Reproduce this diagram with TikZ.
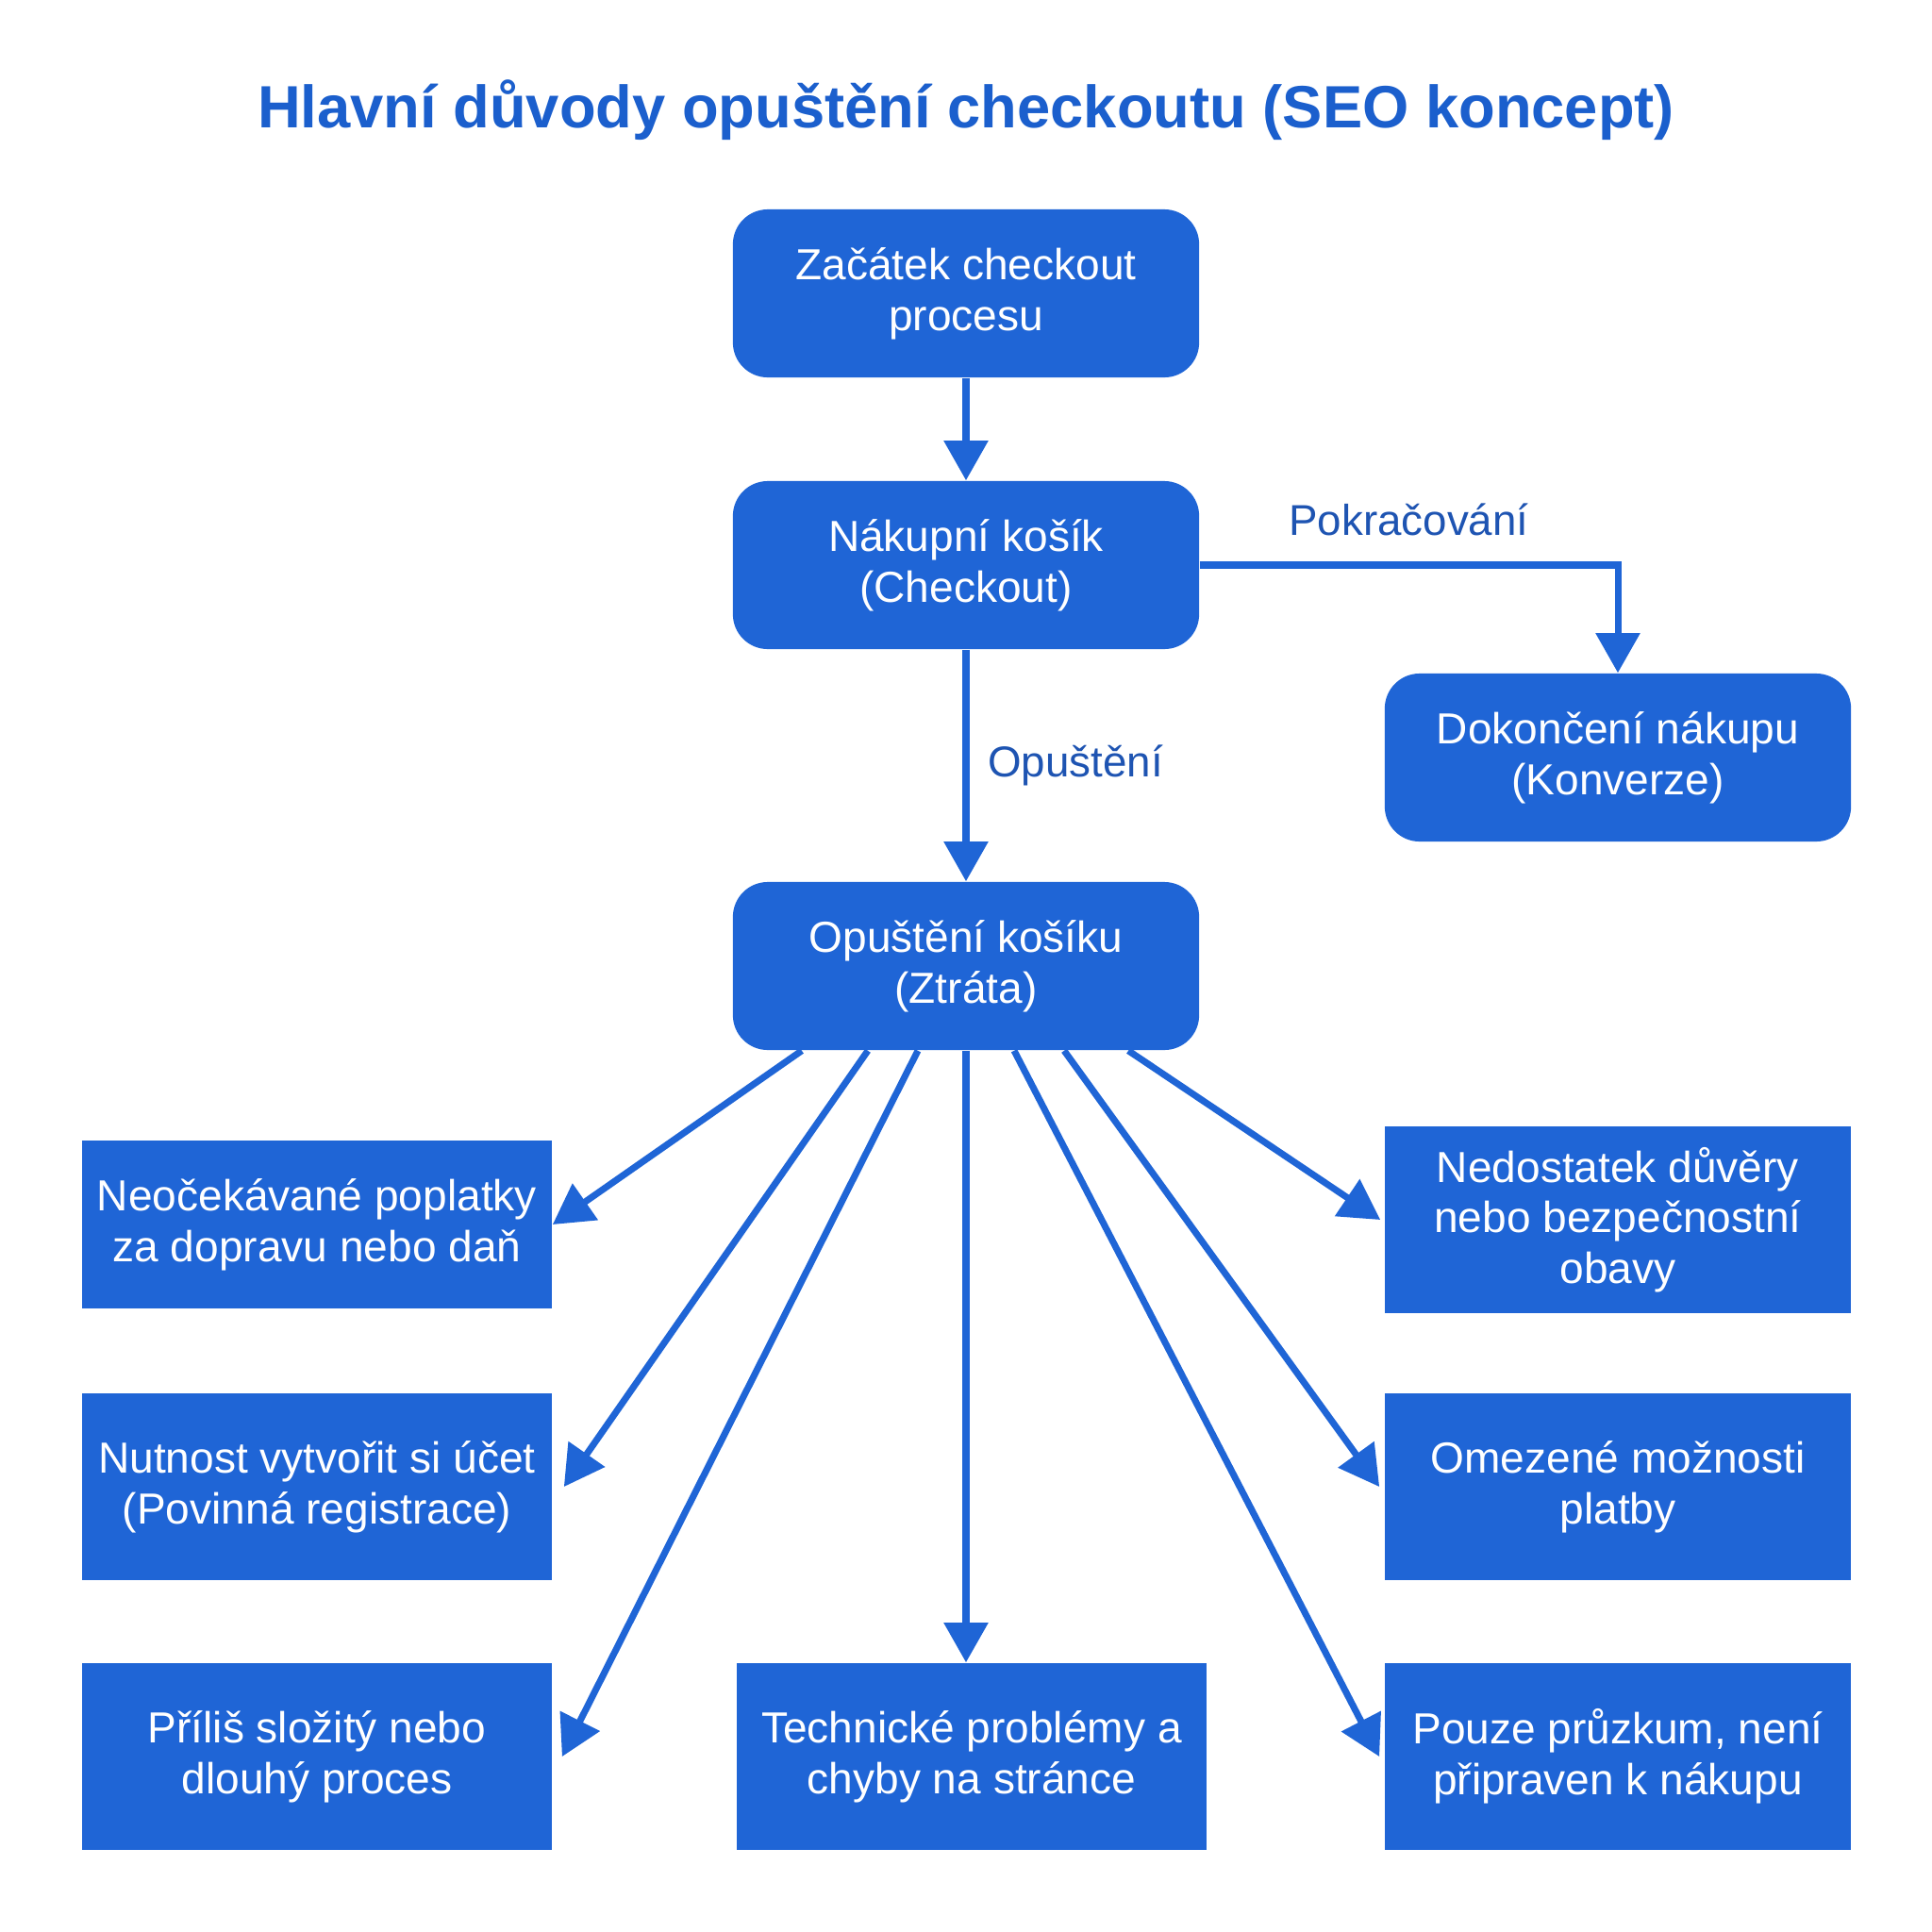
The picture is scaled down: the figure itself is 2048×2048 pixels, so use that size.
\documentclass[tikz,border=0pt]{standalone}
\usepackage{fontspec}
\setmainfont{Liberation Sans}
\usepackage{xcolor}
\usepackage{tikz}
\usetikzlibrary{arrows.meta}
\definecolor{boxblue}{RGB}{31, 101, 214}
\definecolor{titleblue}{RGB}{27, 95, 205}
\definecolor{labelblue}{RGB}{30, 84, 178}

\tikzset{
  stepround/.style={fill=boxblue, rounded corners=0.37cm, minimum width=4.94cm,
    minimum height=1.78cm, align=center, text=white,
    font=\fontsize{13.1}{15.3}\selectfont},
  reason/.style={fill=boxblue, minimum width=4.98cm, minimum height=1.98cm,
    align=center, text=white, inner xsep=1pt, font=\fontsize{13.1}{15.3}\selectfont},
  flow/.style={draw=boxblue, line width=2pt,
    -{Triangle[length=12pt, width=13pt]}},
  flowlabel/.style={text=labelblue, font=\fontsize{13}{15}\selectfont}
}

\begin{document}
\begin{tikzpicture}[x=0.01cm, y=-0.01cm]
\useasboundingbox (0,0) rectangle (2048,2048);
\fill[white] (0,0) rectangle (2048,2048);

% title
\node[text=titleblue, font=\fontsize{18}{22}\selectfont\bfseries] (title) at (1024,117)
  {Hlavní důvody opuštění checkoutu (SEO koncept)};

% main flow
\node[stepround] (start) at (1024,311) {Začátek checkout\\procesu};
\node[stepround] (kosik) at (1024,599) {Nákupní košík\\(Checkout)};
\node[stepround] (konverze) at (1715,803) {Dokončení nákupu\\(Konverze)};
\node[stepround] (opusteni) at (1024,1024) {Opuštění košíku\\(Ztráta)};

\draw[flow] (start) -- (kosik);
\draw[flow] (kosik.east) -| node[flowlabel, pos=0.25, above=0.16cm] {Pokračování} (konverze.north);
\draw[flow] (kosik) -- node[flowlabel, right=0.08cm] {Opuštění} (opusteni);

% reasons - left column
\node[reason, minimum height=1.78cm] (neo) at (336,1298) {Neočekávané poplatky\\za dopravu nebo daň};
\node[reason] (nut) at (336,1576) {Nutnost vytvořit si účet\\(Povinná registrace)};
\node[reason] (pri) at (336,1862) {Příliš složitý nebo\\dlouhý proces};

% reasons - middle
\node[reason] (tech) at (1030,1862) {Technické problémy a\\chyby na stránce};

% reasons - right column
\node[reason, minimum width=4.94cm] (ned) at (1715,1293) {Nedostatek důvěry\\nebo bezpečnostní\\obavy};
\node[reason, minimum width=4.94cm] (ome) at (1715,1576) {Omezené možnosti\\platby};
\node[reason, minimum width=4.94cm] (pouze) at (1715,1862) {Pouze průzkum, není\\připraven k nákupu};

% fan of arrows
\draw[flow] ([xshift=-1.74cm]opusteni.south) -- (neo.east);
\draw[flow] ([xshift=-1.04cm]opusteni.south) -- ([xshift=0.12cm]nut.east);
\draw[flow] ([xshift=-0.51cm]opusteni.south) -- ([xshift=0.1cm]pri.east);
\draw[flow] (opusteni.south) -- (opusteni.south |- tech.north);
\draw[flow] ([xshift=0.51cm]opusteni.south) -- ([xshift=-0.05cm]pouze.west);
\draw[flow] ([xshift=1.04cm]opusteni.south) -- ([xshift=-0.05cm]ome.west);
\draw[flow] ([xshift=1.72cm]opusteni.south) -- ([xshift=-0.04cm]ned.west);
\end{tikzpicture}
\end{document}
